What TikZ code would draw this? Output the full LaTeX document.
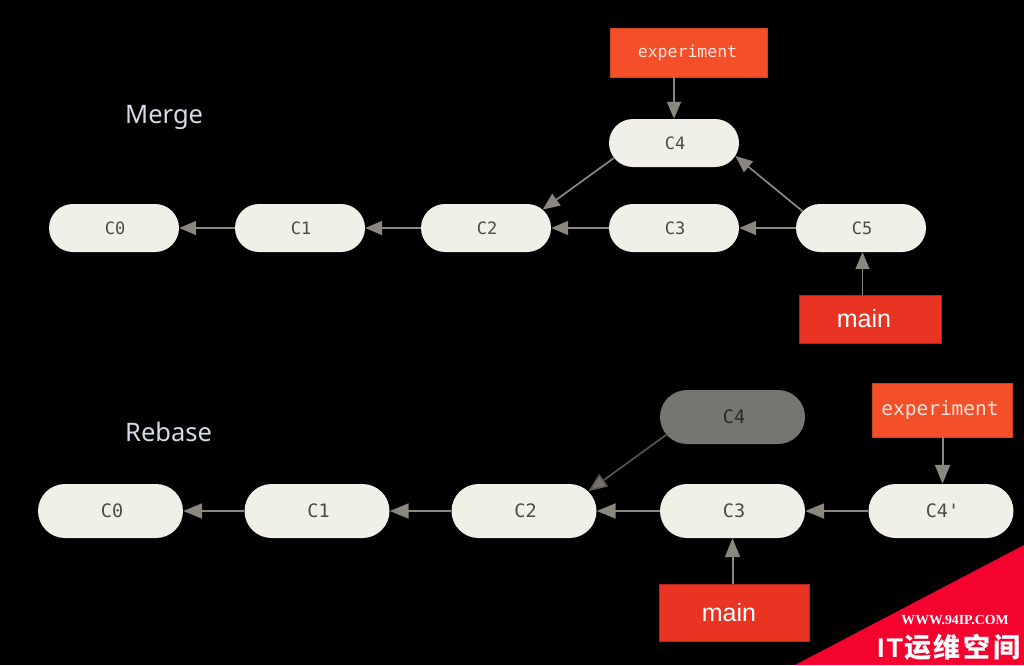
\documentclass[tikz,border=0pt]{standalone}
\usepackage{fontspec}
\setmainfont{Liberation Sans}
\setmonofont{DejaVu Sans Mono}
\newfontfamily\labelfont{Noto Sans}
\newfontfamily\wmfont{Liberation Serif}
\newfontfamily\cjkfont{Noto Sans CJK SC}
\usetikzlibrary{shapes.misc,arrows.meta}
\definecolor{pill}{HTML}{F0EFE8}
\definecolor{pillgrey}{HTML}{767670}
\definecolor{lin}{HTML}{8A877F}
\definecolor{expc}{HTML}{F34F29}
\definecolor{mainc}{HTML}{E93423}
\definecolor{txt}{HTML}{4A4A48}
\definecolor{lbl}{HTML}{D5DCE6}
\definecolor{wm}{HTML}{F5032F}
\tikzset{
  x=1pt,y=-1pt,
  pillbase/.style={rounded rectangle,inner sep=0pt,font=\ttfamily\fontsize{#1}{#1}\selectfont},
  commit/.style={pillbase=17,fill=pill,text=txt,minimum width=130pt,minimum height=48pt,execute at begin node=\kern2pt},
  bigcommit/.style={pillbase=18.5,fill=pill,text=txt,minimum width=145pt,minimum height=54pt,execute at begin node=\kern3pt},
  ghost/.style={pillbase=18.5,fill=pillgrey,text=black!65!pillgrey,minimum width=145pt,minimum height=54pt,execute at begin node=\kern3pt},
  expbox/.style={rectangle,fill=expc,draw=expc!85!black,line width=.8pt,text=white!85!expc,inner sep=0pt,font=\ttfamily},
  mainbox/.style={rectangle,fill=mainc,draw=black!25!mainc,line width=.8pt,text=white,inner sep=0pt,font=\fontsize{25}{25}\selectfont},
  conn/.style={draw=lin,line width=1.7pt,-{Triangle[length=17pt,width=14pt,fill=lin]}},
  bigconn/.style={draw=lin,line width=2pt,-{Triangle[length=19pt,width=15pt,fill=lin]}},
  conng/.style={draw=black!35!lin,line width=1.6pt,-{Triangle[length=19pt,width=15pt,fill=lin!85!black]}},
  seclabel/.style={text=lbl,font=\labelfont\fontsize{25.5}{25.5}\selectfont,inner sep=0pt,anchor=base west},
}
\begin{document}
\begin{tikzpicture}
\useasboundingbox[fill=black] (0,0) rectangle (1024,665);
% Merge
\node[seclabel] (merge) at (125,123) {Merge};
\node[commit] (a0) at (114,228) {C0};
\node[commit] (a1) at (300,228) {C1};
\node[commit] (a2) at (486,228) {C2};
\node[commit] (a3) at (674,228) {C3};
\node[commit] (a5) at (861,228) {C5};
\node[commit] (a4) at (674,143) {C4};
\node[expbox,minimum width=157pt,minimum height=49pt,font=\ttfamily\fontsize{16.5}{16.5}\selectfont] (aexp) at (688.5,52.5) {\kern-2pt\raisebox{-1pt}{experiment}};
\node[mainbox,minimum width=142pt,minimum height=48pt] (amain) at (870,319) {\kern-12pt\raisebox{-3pt}{main}};
\draw[conn] (a1.west) -- (a0.east);
\draw[conn] (a2.west) -- (a1.east);
\draw[conn] (a3.west) -- (a2.east);
\draw[conn] (a5.west) -- (a3.east);
\draw[conn] (a5.164) -- (a4.348);
\draw[conn] (a4.194) -- (a2.18);
\draw[conn] (aexp.south -| a4.north) -- (a4.north);
\draw[conn] ([xshift=1.5pt]amain.north -| a5.south) -- ([xshift=1.5pt]a5.south);
% Rebase
\node[seclabel] (rebase) at (125,441) {Rebase};
\node[bigcommit] (b0) at (110.5,511) {C0};
\node[bigcommit] (b1) at (317,511) {C1};
\node[bigcommit] (b2) at (524,511) {C2};
\node[bigcommit] (b3) at (732.5,511) {C3};
\node[bigcommit] (b4p) at (941,511) {C4'};
\node[ghost] (b4) at (732.5,417) {C4};
\node[expbox,minimum width=140pt,minimum height=54pt,font=\ttfamily\fontsize{19.5}{19.5}\selectfont] (bexp) at (942,410) {\kern-4pt\raisebox{-3pt}{experiment}};
\node[mainbox,minimum width=150pt,minimum height=57pt] (bmain) at (734,612.5) {\kern-10pt\raisebox{-2pt}{main}};
\draw[bigconn] (b1.west) -- (b0.east);
\draw[bigconn] (b2.west) -- (b1.east);
\draw[bigconn] (b3.west) -- (b2.east);
\draw[bigconn] (b4p.west) -- (b3.east);
\draw[conng] (b4.195) -- (b2.17);
\draw[bigconn] ([xshift=1.5pt]bexp.south -| b4p.north) -- ([xshift=1.5pt]b4p.north);
\draw[bigconn] (bmain.north -| b3.south) -- (b3.south);
% Watermark
\fill[wm] (1024,545) -- (1024,665) -- (795,665) -- cycle;
\node[text=white,inner sep=0pt,font=\wmfont\bfseries\fontsize{13.8}{13.8}\selectfont] (wmurl) at (955,620) {WWW.94IP.COM};
\node[text=white,inner sep=0pt,font=\fontsize{27}{27}\selectfont\bfseries,anchor=west] (wmit) at (877,647) {I\kern2pt T\kern1pt{\cjkfont 运\kern2pt 维\kern3pt 空\kern3pt 间}};
\end{tikzpicture}
\end{document}
